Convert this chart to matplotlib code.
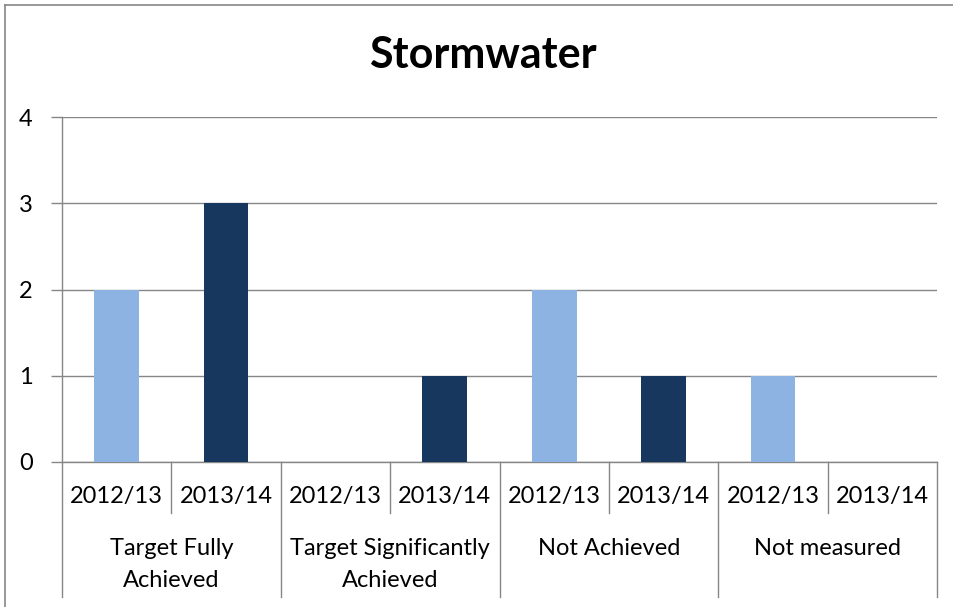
import matplotlib.pyplot as plt
from matplotlib.lines import Line2D

groups = ['Target Fully\nAchieved', 'Target Significantly\nAchieved',
          'Not Achieved', 'Not measured']
years = ['2012/13', '2013/14']
values_2012 = [2, 0, 2, 1]
values_2013 = [3, 1, 1, 0]

LIGHT = '#8DB3E2'
DARK = '#17375E'
GRID = '#868686'

plt.rcParams['font.family'] = ['Lato', 'DejaVu Sans']

W, H = 954, 607
fig = plt.figure(figsize=(W / 100, H / 100), dpi=100)

# outer chart frame (only top and left are visible in the crop)
fig.add_artist(Line2D([5 / W, 5 / W], [0, 1 - 5 / H], color=GRID, lw=1.2))
fig.add_artist(Line2D([5 / W, 1], [1 - 5 / H, 1 - 5 / H], color=GRID, lw=1.2))

x0, x1 = 62, 937
ytop, ybot = 117, 462
ax = fig.add_axes([x0 / W, 1 - ybot / H, (x1 - x0) / W, (ybot - ytop) / H])

n = len(groups) * len(years)
xs_light = [2 * i + 0.5 for i in range(len(groups))]
xs_dark = [2 * i + 1.5 for i in range(len(groups))]
ax.bar(xs_light, values_2012, width=0.41, color=LIGHT, zorder=3)
ax.bar(xs_dark, values_2013, width=0.41, color=DARK, zorder=3)

ax.set_xlim(0, n)
ax.set_ylim(0, 4)
ax.set_yticks([0, 1, 2, 3, 4])
ax.yaxis.grid(True, color=GRID, lw=1)
ax.set_axisbelow(True)
ax.tick_params(axis='y', length=8, width=1, color=GRID, pad=13, labelsize=17)
ax.set_xticks([])
for s in ['top', 'right']:
    ax.spines[s].set_visible(False)
ax.spines['left'].set_color(GRID)
ax.spines['bottom'].set_color(GRID)
ax.spines['left'].set_linewidth(1)
ax.spines['bottom'].set_linewidth(1)

fig.text(483 / W, 1 - 55 / H, 'Stormwater', fontsize=31, fontweight='bold',
         ha='center', va='center')

# multi-level category axis
ah = ybot - ytop
row1 = -51 / ah
row2 = -135 / ah
tr = ax.get_xaxis_transform()
for k in range(n + 1):
    bottom = row2 if k % 2 == 0 else row1
    ax.add_line(Line2D([k, k], [0, bottom], transform=tr, color=GRID,
                       lw=1, clip_on=False))
for k in range(n):
    ax.text(k + 0.5, -35 / ah, years[k % 2], transform=tr, ha='center',
            va='center', fontsize=17)
for g, name in enumerate(groups):
    ax.text(2 * g + 1, -76 / ah, name, transform=tr, ha='center', va='top',
            fontsize=17, linespacing=1.65)

fig.savefig('out.png', dpi=100)
